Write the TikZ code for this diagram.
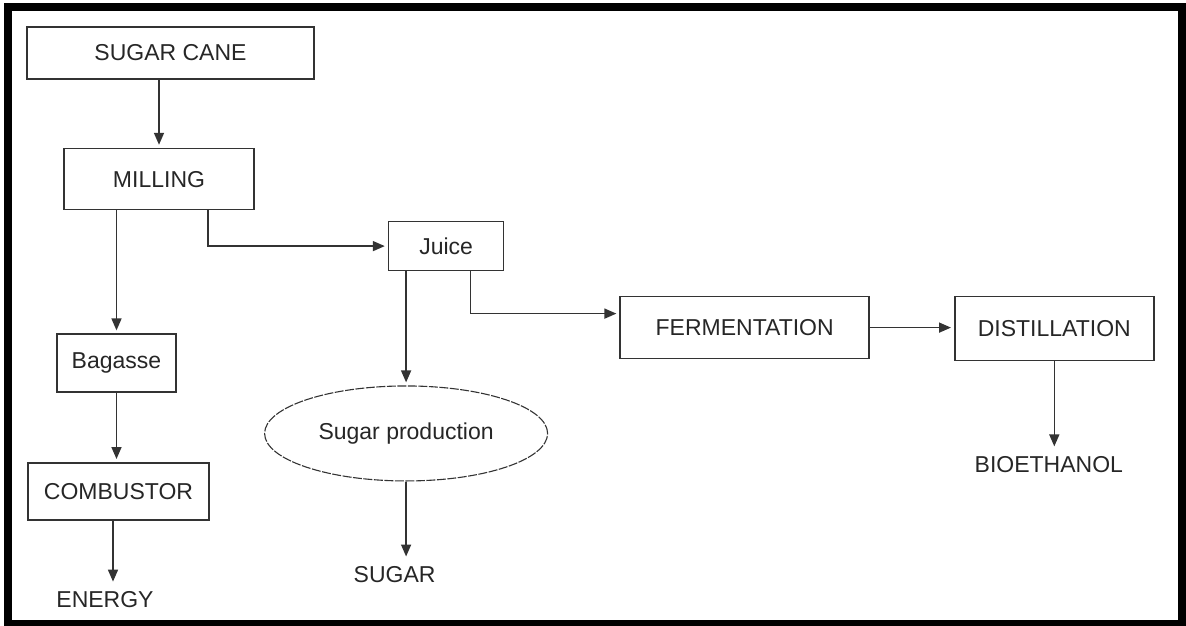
\documentclass[tikz,border=0pt]{standalone}
\usepackage{fontspec}
\setmainfont{Liberation Sans}
\usetikzlibrary{arrows.meta,positioning,shapes.geometric}

\begin{document}
\begin{tikzpicture}[->,>={Triangle[length=12pt,width=10pt]},shorten >=3pt,
                    x=1pt,y=1pt,line width=1.6pt,color=black!80]
  \tikzstyle{every node}=[font=\fontsize{23}{27}\selectfont,text=black!85]
  \tikzstyle{block}=[draw,rectangle,inner sep=0pt]
  \tikzstyle{txt}=[inner sep=6pt]

  \useasboundingbox (0,0) rectangle (1186,-626);
  \draw[-,line width=8pt,black] (8,-7) rectangle (1182,-623.5);

  \node[block,minimum width=287pt,minimum height=52pt] (cane) at (170.5,-53) {SUGAR CANE};
  \node[block,minimum width=190pt,minimum height=61pt] (mill) [below=68pt of cane,xshift=-11.5pt] {MILLING};
  \node[block,minimum width=119pt,minimum height=58pt] (bag) [below=123pt of mill,xshift=-42.5pt] {Bagasse};
  \node[block,minimum width=181pt,minimum height=57pt] (comb) [below=69pt of bag,xshift=2pt] {COMBUSTOR};
  \node[txt] (energy) [below=64pt of comb,xshift=-13.5pt] {ENERGY};
  \node[block,minimum width=115pt,minimum height=49pt] (juice) [right=133pt of mill,yshift=-67pt] {Juice};
  \node[draw,ellipse,inner sep=0pt,line width=1.1pt,dash pattern=on 9pt off 1.5pt,
        minimum width=283pt,minimum height=95pt] (sugprod) [below=114pt of juice,xshift=-40pt] {Sugar production};
  \node[txt] (sugar) [below=78pt of sugprod,xshift=-11.5pt] {SUGAR};
  \node[block,minimum width=249pt,minimum height=62pt] (ferm) [right=115pt of juice,yshift=-81.5pt] {FERMENTATION};
  \node[block,minimum width=199pt,minimum height=64pt] (dist) [right=84pt of ferm,yshift=-1pt] {DISTILLATION};
  \node[txt] (bio) [below=88pt of dist,xshift=-5.5pt] {BIOETHANOL};

  \coordinate (e1) at ([xshift=-5.5pt]comb.south);

  \draw (cane.south -| mill.north) -- (mill.north);
  \draw (mill.south -| bag.north) -- (bag.north);
  \draw ([xshift=49pt]mill.south) |- (juice);
  \draw (bag.south) -- (bag.south |- comb.north);
  \draw (e1) -- (e1 |- energy.north);
  \draw (juice.south -| sugprod.north) -- (sugprod.north);
  \draw ([xshift=24.5pt]juice.south) |- ([yshift=14pt]ferm.west);
  \draw (sugprod.south) -- (sugprod.south |- sugar.north);
  \draw (ferm.east) -- (ferm.east -| dist.west);
  \draw (dist.south) -- (dist.south |- bio.north);

\end{tikzpicture}
\end{document}
